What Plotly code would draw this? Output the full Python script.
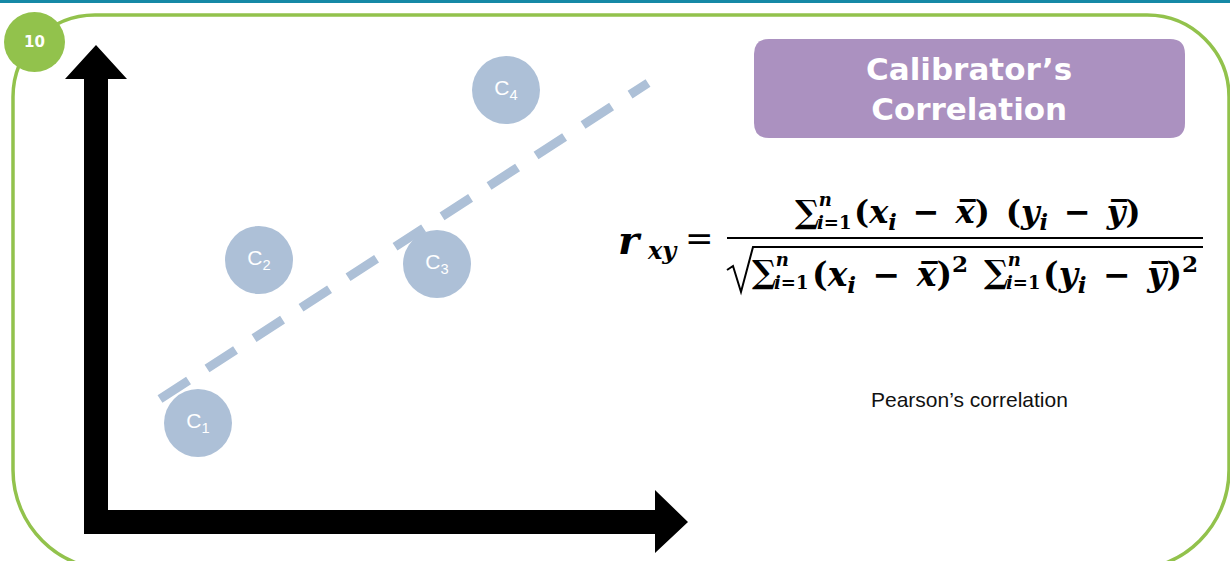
import plotly.graph_objects as go

# ---- data ----
calibrators = ["C<sub>1</sub>", "C<sub>2</sub>", "C<sub>3</sub>", "C<sub>4</sub>"]
calib_x = [198, 259, 437, 506]
calib_y = [423, 260, 264, 90]
trend_x = [160, 648]
trend_y = [399, 83]
slide_number = "10"
title_lines = ["Calibrator’s", "Correlation"]
caption = "Pearson’s correlation"

W, H = 1230, 561
CIRCLE = "#adc0d7"
GREEN = "#92c24c"
PURPLE = "#ab91c0"
TEAL = "#1689a6"

fig = go.Figure()

fig.add_trace(go.Scatter(
    x=trend_x, y=trend_y, mode="lines",
    line=dict(color=CIRCLE, width=9, dash="34px,22px"),
    hoverinfo="skip", showlegend=False))

fig.add_trace(go.Scatter(
    x=calib_x, y=calib_y, mode="markers+text",
    marker=dict(size=68, color=CIRCLE, line=dict(width=0)),
    text=calibrators, textposition="middle center",
    textfont=dict(family="Liberation Sans, Arial", size=21, color="white"),
    hoverinfo="skip", showlegend=False))

def rrect(x0, y0, x1, y1, r):
    return (f"M {x0+r},{y0} L {x1-r},{y0} Q {x1},{y0} {x1},{y0+r} "
            f"L {x1},{y1-r} Q {x1},{y1} {x1-r},{y1} L {x0+r},{y1} "
            f"Q {x0},{y1} {x0},{y1-r} L {x0},{y0+r} Q {x0},{y0} {x0+r},{y0} Z")

def border_path(x0, y0, x1, y1, rt, rb):
    k = 0.5523
    return (f"M {x0+rt},{y0} L {x1-rt},{y0} "
            f"C {x1-rt+rt*k},{y0} {x1},{y0+rt-rt*k} {x1},{y0+rt} "
            f"L {x1},{y1-rb} "
            f"C {x1},{y1-rb+rb*k} {x1-rb+rb*k},{y1} {x1-rb},{y1} "
            f"L {x0+rb},{y1} "
            f"C {x0+rb-rb*k},{y1} {x0},{y1-rb+rb*k} {x0},{y1-rb} "
            f"L {x0},{y0+rt} "
            f"C {x0},{y0+rt-rt*k} {x0+rt-rt*k},{y0} {x0+rt},{y0} Z")

shapes = []
shapes.append(dict(type="path", path=border_path(13, 15, 1229, 570, 82, 100),
                   line=dict(color=GREEN, width=3.5), layer="below"))
shapes.append(dict(type="rect", x0=0, x1=W, y0=0, y1=3, fillcolor=TEAL,
                   line=dict(width=0)))
shapes.append(dict(type="circle", x0=4, x1=65, y0=12, y1=72, fillcolor=GREEN,
                   line=dict(width=0)))
shapes.append(dict(type="path", path=rrect(754, 39, 1185, 138, 15),
                   fillcolor=PURPLE, line=dict(width=0)))
shapes.append(dict(type="path",
                   path="M 84,534 L 84,79 L 65,79 L 96,45 L 127,79 L 108,79 L 108,510 "
                        "L 655,510 L 655,490 L 688,522 L 655,553 L 655,534 Z",
                   fillcolor="black", line=dict(width=0)))
shapes.append(dict(type="line", x0=727, x1=1203, y0=238, y1=238,
                   line=dict(color="black", width=2)))
shapes.append(dict(type="path",
                   path="M 727,270 L 733,266 L 741,292 L 753,247 L 1203,247",
                   line=dict(color="black", width=2)))

ann = []
ann.append(dict(x=34, y=42, text="<b>10</b>", showarrow=False,
                font=dict(family="DejaVu Sans", size=15, color="white")))
ann.append(dict(x=969, y=89, text="<b>" + "<br>".join(title_lines) + "</b>",
                showarrow=False,
                font=dict(family="DejaVu Sans", size=31, color="white")))
ann.append(dict(x=969, y=399, text=caption, showarrow=False,
                font=dict(family="Liberation Sans, Arial", size=21, color="#111111")))

MF = "DejaVu Serif"
def t(x, y, s, size=30, anchor="left", align="left"):
    ann.append(dict(x=x, y=y, text=s, showarrow=False, xanchor=anchor, yanchor="middle",
                    align=align, borderpad=0,
                    font=dict(family=MF, size=size, color="black")))

t(617, 239, "<b><i>r</i></b>", 40)
t(646, 250, "<b><i>xy</i></b>", 24)
t(684, 238, "=", 34)

sp = "&#8194;"
xbar = "<b><i>x&#773;</i></b>"
ybar = "<b><i>y&#773;</i></b>"
xg = ("<b>(<i>x</i></b><sub><b><i>i</i></b></sub><b>" + sp + "−" + sp + "</b>" + xbar + "<b>)</b>")
yg = ("<b>(<i>y</i></b><sub><b><i>i</i></b></sub><b>" + sp + "−" + sp + "</b>" + ybar + "<b>)</b>")

def sigma(x, y):
    t(x - 1, y, "<b>∑</b>", 32)
    t(x + 21, y - 1, "<b>&#8202;<i>n</i><br><i>i</i>=1</b>", 18)

# numerator
sigma(795, 212)
t(853, 214, xg + "<b>" + sp + "</b>" + yg, 32)
# denominator
sigma(752, 272)
t(811, 274, xg + "<sup><b>2</b></sup>", 33)
sigma(984, 272)
t(1042, 274, yg + "<sup><b>2</b></sup>", 33)

fig.update_layout(
    width=W, height=H, margin=dict(l=0, r=0, t=0, b=0),
    paper_bgcolor="white", plot_bgcolor="white",
    xaxis=dict(range=[0, W], visible=False, fixedrange=True),
    yaxis=dict(range=[H, 0], visible=False, fixedrange=True),
    shapes=shapes, annotations=ann, hovermode=False, showlegend=False,
)

fig.write_html("out.html", config={"displayModeBar": False},
               post_script="document.body.style.margin='0';")
